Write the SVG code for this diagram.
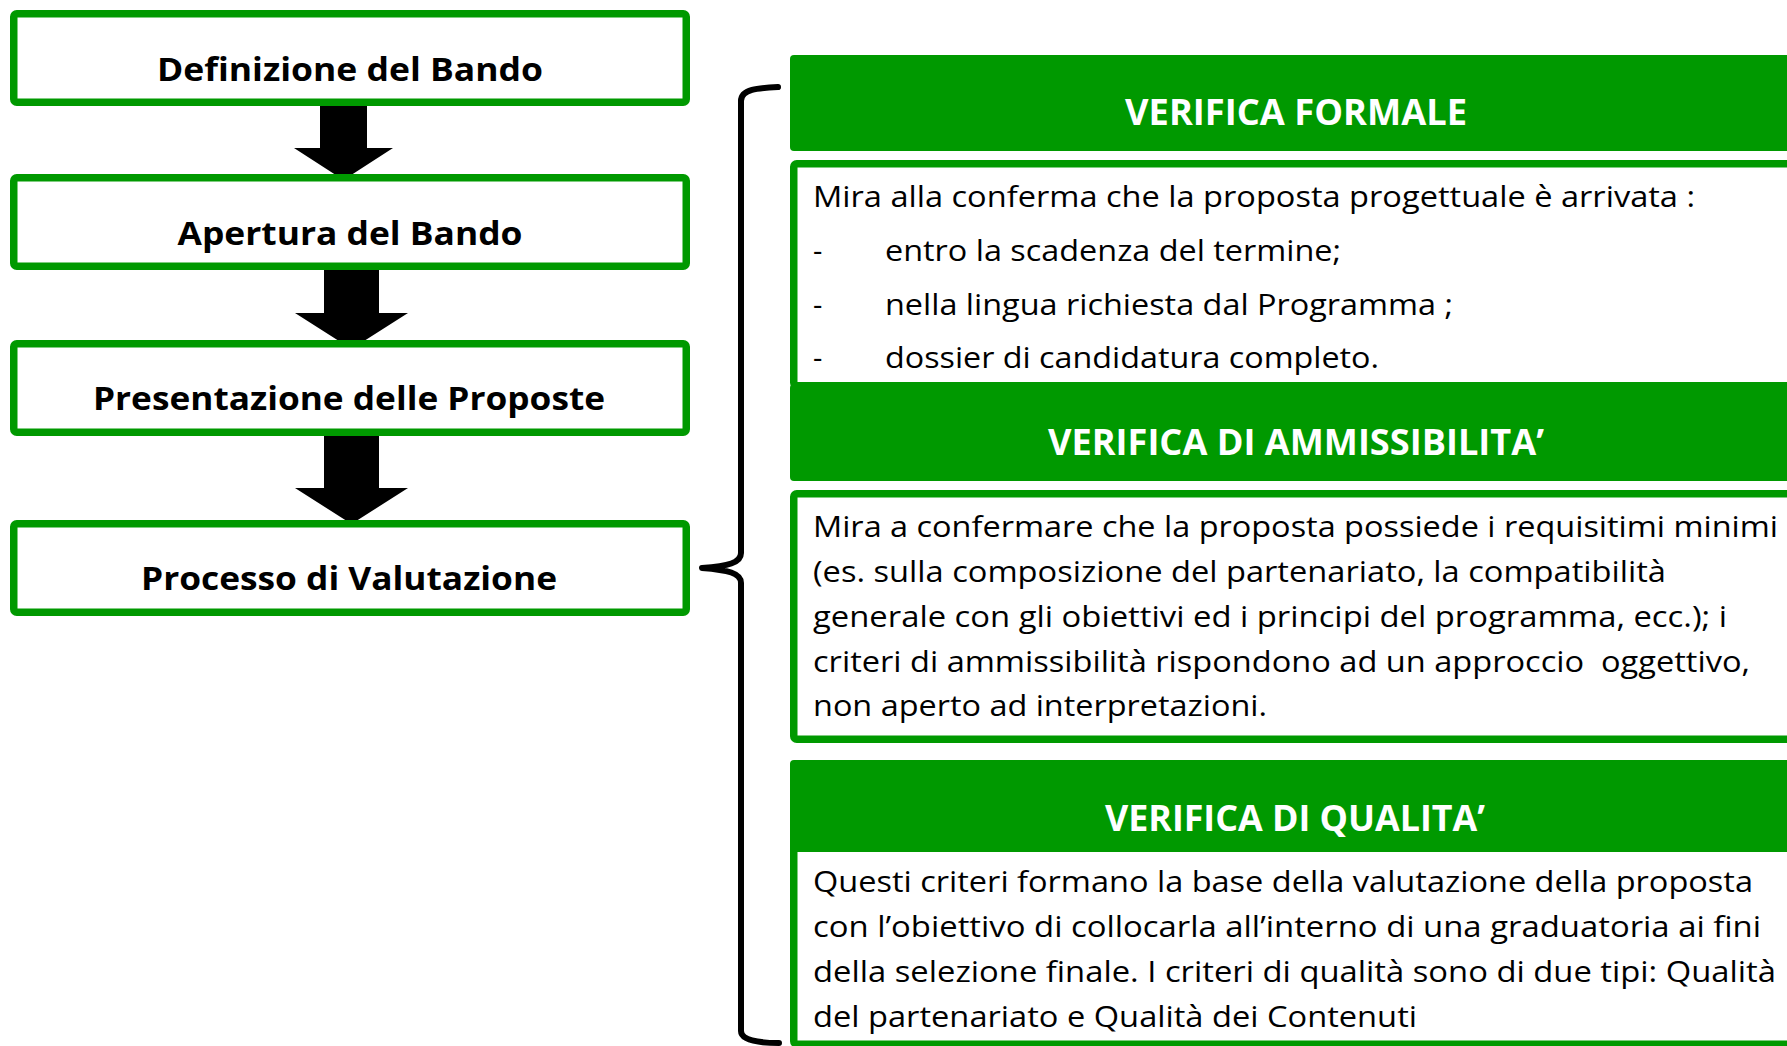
<svg xmlns="http://www.w3.org/2000/svg" width="1787" height="1046" viewBox="0 0 1787 1046">
  <style>
    .box { fill: #ffffff; stroke: #009900; stroke-width: 7.5; }
    .hdr { fill: #009900; }
    .arrow { fill: #000000; }
    .brace { fill: none; stroke: #000000; stroke-width: 6; stroke-linecap: round; stroke-linejoin: round; }
    .lt { font-family: 'Open Sans', 'Liberation Sans', sans-serif; font-weight: 700; font-size: 33px; fill: #000000; text-anchor: middle; }
    .ht { font-family: 'Open Sans', 'Liberation Sans', sans-serif; font-weight: 700; font-size: 36px; fill: #ffffff; text-anchor: middle; }
    .bt { font-family: 'Open Sans', 'Liberation Sans', sans-serif; font-weight: 400; font-size: 29px; fill: #000000; }
  </style>
  <rect x="0" y="0" width="1787" height="1046" fill="#ffffff"/>

  <g id="connectors">
    <polygon class="arrow" points="320,104 367,104 367,148 393,148 343.5,180 294,148 320,148"/>
    <polygon class="arrow" points="324,268 379,268 379,313 408,313 351.5,349 295,313 324,313"/>
    <polygon class="arrow" points="324,434 379,434 379,488 408,488 351.5,524 295,488 324,488"/>
    <path id="brace" class="brace" d="M 778,87 C 758,88 741,89 741,101 L 741,553 C 741,563 728,566 702,568 C 728,570 741,573 741,583 L 741,1031 C 741,1040 758,1043 779,1043"/>
  </g>

  <g id="node-definizione">
    <rect class="box" x="13.75" y="13.75" width="672.5" height="88.5" rx="3"/>
    <text class="lt" x="350" y="81" textLength="386" lengthAdjust="spacingAndGlyphs">Definizione del Bando</text>
  </g>
  <g id="node-apertura">
    <rect class="box" x="13.75" y="177.75" width="672.5" height="88.5" rx="3"/>
    <text class="lt" x="350" y="245" textLength="345" lengthAdjust="spacingAndGlyphs">Apertura del Bando</text>
  </g>
  <g id="node-presentazione">
    <rect class="box" x="13.75" y="343.75" width="672.5" height="88.5" rx="3"/>
    <text class="lt" x="349" y="410" textLength="512" lengthAdjust="spacingAndGlyphs">Presentazione delle Proposte</text>
  </g>
  <g id="node-processo">
    <rect class="box" x="13.75" y="523.75" width="672.5" height="88.5" rx="3"/>
    <text class="lt" x="349" y="590" textLength="416" lengthAdjust="spacingAndGlyphs">Processo di Valutazione</text>
  </g>

  <g id="node-verifica-formale">
    <rect class="hdr" x="790" y="55" width="1030" height="96" rx="4"/>
    <text class="ht" x="1296" y="125" textLength="342" lengthAdjust="spacingAndGlyphs">VERIFICA FORMALE</text>
    <rect class="box" x="793.75" y="163.75" width="1020" height="222" rx="3"/>
    <text class="bt" x="813" y="207" textLength="882" lengthAdjust="spacingAndGlyphs">Mira alla conferma che la proposta progettuale è arrivata :</text>
    <text class="bt" x="813" y="261">-</text>
    <text class="bt" x="885" y="261" textLength="456" lengthAdjust="spacingAndGlyphs">entro la scadenza del termine;</text>
    <text class="bt" x="813" y="315">-</text>
    <text class="bt" x="885" y="315" textLength="568" lengthAdjust="spacingAndGlyphs">nella lingua richiesta dal Programma ;</text>
    <text class="bt" x="813" y="368">-</text>
    <text class="bt" x="885" y="368" textLength="494" lengthAdjust="spacingAndGlyphs">dossier di candidatura completo.</text>
  </g>

  <g id="node-verifica-ammissibilita">
    <rect class="hdr" x="790" y="384" width="1030" height="97" rx="4"/>
    <text class="ht" x="1296" y="455" textLength="496" lengthAdjust="spacingAndGlyphs">VERIFICA DI AMMISSIBILITA’</text>
    <rect class="box" x="793.75" y="493.75" width="1020" height="245.5" rx="3"/>
    <text class="bt" x="813" y="537" textLength="965" lengthAdjust="spacingAndGlyphs">Mira a confermare che la proposta possiede i requisitimi minimi</text>
    <text class="bt" x="813" y="582" textLength="853" lengthAdjust="spacingAndGlyphs">(es. sulla composizione del partenariato, la compatibilità</text>
    <text class="bt" x="813" y="627" textLength="914" lengthAdjust="spacingAndGlyphs">generale con gli obiettivi ed i principi del programma, ecc.); i</text>
    <text class="bt" x="813" y="672" textLength="937" lengthAdjust="spacingAndGlyphs" style="white-space:pre">criteri di ammissibilità rispondono ad un approccio  oggettivo,</text>
    <text class="bt" x="813" y="716" textLength="454" lengthAdjust="spacingAndGlyphs">non aperto ad interpretazioni.</text>
  </g>

  <g id="node-verifica-qualita">
    <rect class="box" x="793.75" y="763.75" width="1020" height="280.5" rx="3"/>
    <rect class="hdr" x="790" y="760" width="1030" height="92" rx="4"/>
    <text class="ht" x="1295" y="831" textLength="380" lengthAdjust="spacingAndGlyphs">VERIFICA DI QUALITA’</text>
    <text class="bt" x="813" y="892" textLength="940" lengthAdjust="spacingAndGlyphs">Questi criteri formano la base della valutazione della proposta</text>
    <text class="bt" x="813" y="937" textLength="948" lengthAdjust="spacingAndGlyphs">con l’obiettivo di collocarla all’interno di una graduatoria ai fini</text>
    <text class="bt" x="813" y="982" textLength="963" lengthAdjust="spacingAndGlyphs">della selezione finale. I criteri di qualità sono di due tipi: Qualità</text>
    <text class="bt" x="813" y="1027" textLength="604" lengthAdjust="spacingAndGlyphs">del partenariato e Qualità dei Contenuti</text>
  </g>
</svg>
